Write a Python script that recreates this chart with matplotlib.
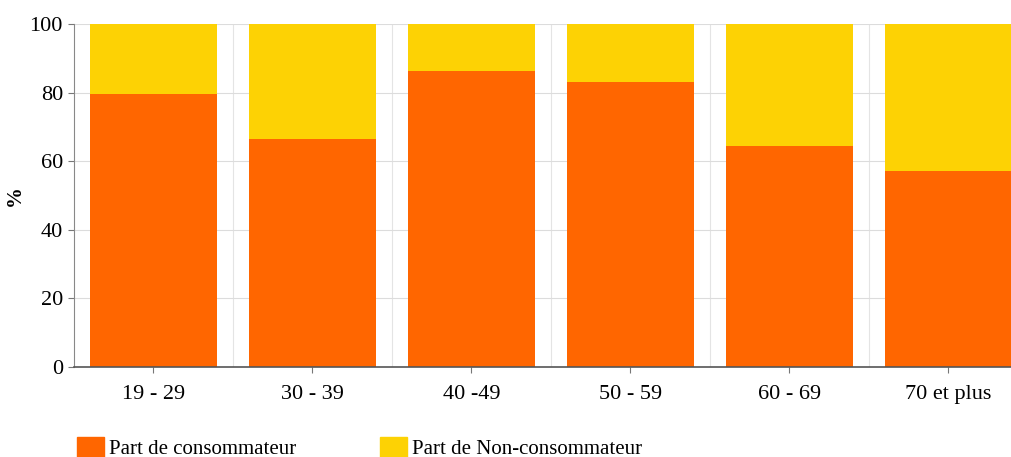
import matplotlib
matplotlib.use('Agg')
import matplotlib.pyplot as plt
import numpy as np
from matplotlib.patches import Patch

# Share of consumers by age group (%)
groupes = ['19 - 29', '30 - 39', '40 -49', '50 - 59', '60 - 69', '70 et plus']
consommateurs = [79.7, 66.4, 86.3, 83.0, 64.4, 57.1]
non_consommateurs = [100 - v for v in consommateurs]

ORANGE = '#ff6600'
JAUNE = '#fdd204'

plt.rcParams['font.family'] = ['Liberation Serif', 'DejaVu Serif']

fig = plt.figure(figsize=(10.12, 4.57), dpi=100)
ax = fig.add_axes([74 / 1012, 90 / 457, 954 / 1012, 343 / 457])

x = np.arange(len(groupes))
ax.bar(x, consommateurs, width=0.8, color=ORANGE, zorder=2)
ax.bar(x, non_consommateurs, width=0.8, bottom=consommateurs, color=JAUNE, zorder=2)

ax.set_xlim(-0.5, len(groupes) - 0.5)
ax.set_ylim(0, 100)
ax.set_yticks([0, 20, 40, 60, 80, 100])
ax.set_xticks(x)
ax.set_xticklabels(groupes)
ax.set_xticks(x[:-1] + 0.5, minor=True)

ax.grid(axis='y', color='#dcdcdc', lw=0.8, zorder=0)
ax.grid(axis='x', which='minor', color='#e4e4e4', lw=0.8, zorder=0)
ax.tick_params(axis='x', which='minor', length=0)
ax.tick_params(axis='both', which='major', labelsize=16, length=4, color='#777777')
ax.tick_params(axis='x', which='major', pad=9)
ax.tick_params(axis='y', which='major', pad=4)

for s in ['top', 'right']:
    ax.spines[s].set_visible(False)
ax.spines['left'].set_color('#888888')
ax.spines['bottom'].set_color('#555555')
ax.spines['bottom'].set_linewidth(1.2)

ax.set_ylabel('%', fontsize=15, fontweight='bold')
ax.yaxis.set_label_coords(-0.051, 0.5)

handles = [Patch(color=ORANGE, label='Part de consommateur'),
           Patch(color=JAUNE, label='Part de Non-consommateur')]
fig.legend(handles=handles, loc='lower left', bbox_to_anchor=(58 / 1012, -0.045),
           ncol=2, frameon=False, fontsize=15, handlelength=1.3, handleheight=1.1,
           handletextpad=0.25, columnspacing=4.0)

fig.savefig('out.png', dpi=100)
